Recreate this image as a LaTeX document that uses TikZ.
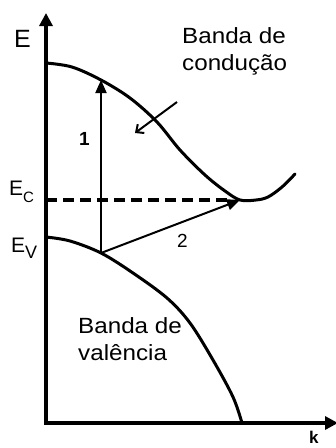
\documentclass[tikz,border=0pt]{standalone}
\usepackage{fontspec}
\setmainfont{Liberation Sans}
\newfontfamily\lblfont[FakeStretch=1.1]{Liberation Sans}
\usetikzlibrary{arrows.meta}
\begin{document}
\begin{tikzpicture}[x=1pt,y=-1pt,
  axis/.style={line width=4.5pt,-{Triangle[length=13pt,width=13pt]}},
  band/.style={line width=3pt,line join=round,line cap=round},
  trans/.style={line width=2pt,-{Triangle[length=13pt,width=11pt]}},
  pointer/.style={line width=2pt,-{Straight Barb[length=6pt,width=11pt,line width=2pt]}},
  lbl/.style={inner sep=0pt,anchor=base west,font=\lblfont\fontsize{22}{27}\selectfont,align=left},
  sym/.style={inner sep=0pt,anchor=base west}]
\useasboundingbox (0,0) rectangle (336,448);
\coordinate (O) at (46,423);
\coordinate (Etop) at (46,13);
\coordinate (Kend) at (338,423);
\coordinate (Ec0) at (46,200);
\coordinate (Cmin) at (240,200);
\coordinate (Vtop) at (101,253);
\coordinate (Ctop) at (101,80);
\coordinate (pa) at (177,102);
\coordinate (pb) at (135,133);
% axes
\draw[axis] ([yshift=2pt]O) -- (Etop);
\draw[axis] ([xshift=-2pt]O) -- (Kend);
% conduction band
\draw[band] plot[smooth,tension=0.55] coordinates {(46,63) (72,67) (101,80) (130,98) (157,122) (180,150) (205,175) (225,191) (240,200) (256,200) (268,197) (282,187) (295,174)};
% valence band
\draw[band] plot[smooth,tension=0.55] coordinates {(46,237) (70,241) (101,253) (133,273) (167,298) (190,323) (213,360) (233,397) (242,423)};
% dashed E_C level
\draw[line width=4pt,dash pattern=on 11pt off 6pt] (Ec0) -- ([xshift=-8pt]Cmin);
% transitions
\draw[trans] (Vtop) -- (Ctop);
\draw[trans] (Vtop) -- (Cmin);
\draw[pointer] (pa) -- (pb);
% labels
\node[sym,font=\fontsize{25}{25}\selectfont] (E) at (14,47) {E};
\node[sym,font=\fontsize{21}{21}\selectfont] (EC) at (9,195) {E\raisebox{-7pt}{\fontsize{15}{15}\selectfont C}};
\node[sym,font=\fontsize{21}{21}\selectfont] (EV) at (11,252) {E\raisebox{-6pt}{\fontsize{18}{18}\selectfont V}};
\node[sym,font=\fontsize{19}{19}\selectfont\bfseries] (n1) at (79,145) {1};
\node[sym,font=\fontsize{19}{19}\selectfont] (n2) at (177,247) {2};
\node[sym,font=\fontsize{17}{17}\selectfont\bfseries] (k) at (309,443) {k};
\node[lbl] (cond) at (182,70) {Banda de\\condução};
\node[lbl] (val) at (78,360) {Banda de\\valência};
\end{tikzpicture}
\end{document}
